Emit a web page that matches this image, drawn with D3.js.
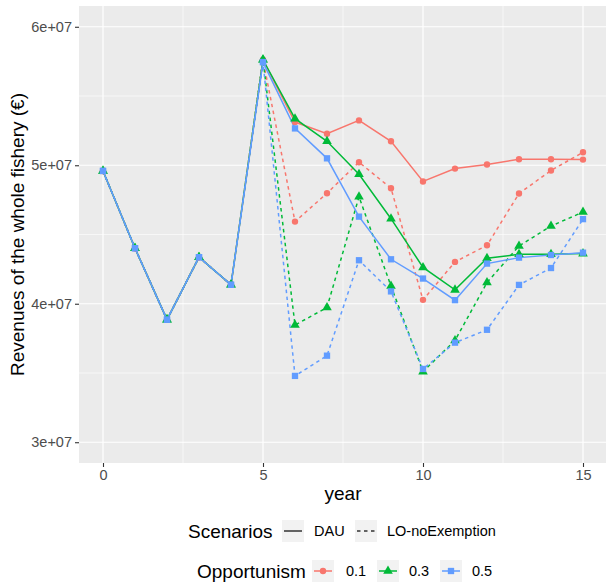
<!DOCTYPE html>
<html>
<head>
<meta charset="utf-8">
<script src="https://cdn.jsdelivr.net/npm/d3@7"></script>
<style>
  body { margin: 0; background: #fff; }
  svg { font-family: "Liberation Sans", Arial, sans-serif; display: block; }
  .tickLabel { fill: #4d4d4d; font-size: 14.5px; }
  .axisTitle { fill: #000; font-size: 19px; }
  .legendTitle { fill: #000; font-size: 19px; }
  .legendLabel { fill: #000; font-size: 14.5px; }
</style>
</head>
<body>
<div id="chart"></div>
<script>
// years on the x axis
var years = [0, 1, 2, 3, 4, 5, 6, 7, 8, 9, 10, 11, 12, 13, 14, 15];

// revenues (EUR)
var dau01 = [4.959e7, 4.401e7, 3.885e7, 4.336e7, 4.137e7, 5.760e7, 5.312e7, 5.228e7, 5.324e7, 5.173e7, 4.883e7, 4.976e7, 5.005e7, 5.043e7, 5.043e7, 5.041e7];
var dau03 = [4.959e7, 4.401e7, 3.885e7, 4.336e7, 4.137e7, 5.762e7, 5.336e7, 5.173e7, 4.935e7, 4.614e7, 4.262e7, 4.100e7, 4.328e7, 4.357e7, 4.357e7, 4.362e7];
var dau05 = [4.959e7, 4.401e7, 3.885e7, 4.336e7, 4.137e7, 5.745e7, 5.266e7, 5.050e7, 4.629e7, 4.321e7, 4.182e7, 4.026e7, 4.290e7, 4.333e7, 4.352e7, 4.369e7];
var lo01  = [4.959e7, 4.401e7, 3.885e7, 4.336e7, 4.137e7, 5.760e7, 4.593e7, 4.798e7, 5.022e7, 4.834e7, 4.028e7, 4.302e7, 4.422e7, 4.796e7, 4.962e7, 5.094e7];
var lo03  = [4.959e7, 4.401e7, 3.885e7, 4.336e7, 4.137e7, 5.762e7, 3.846e7, 3.973e7, 4.772e7, 4.128e7, 3.510e7, 3.735e7, 4.153e7, 4.417e7, 4.561e7, 4.662e7];
var lo05  = [4.959e7, 4.401e7, 3.885e7, 4.336e7, 4.137e7, 5.745e7, 3.479e7, 3.625e7, 4.314e7, 4.089e7, 3.529e7, 3.719e7, 3.812e7, 4.136e7, 4.258e7, 4.611e7];

var scenarios = ["DAU", "LO-noExemption"];
var opportunism = ["0.1", "0.3", "0.5"];
var xTicks = [0, 5, 10, 15];
var yTicks = [3e7, 4e7, 5e7, 6e7];

var series = [
    {scenario: "DAU", opp: "0.1", values: dau01},
    {scenario: "LO-noExemption", opp: "0.1", values: lo01},
    {scenario: "DAU", opp: "0.3", values: dau03},
    {scenario: "LO-noExemption", opp: "0.3", values: lo03},
    {scenario: "DAU", opp: "0.5", values: dau05},
    {scenario: "LO-noExemption", opp: "0.5", values: lo05}
];

var width = 606, height = 582;
var panel = {left: 79, right: 607, top: 6, bottom: 463};

var colorScale = d3.scaleOrdinal().domain(opportunism).range(["#F8766D", "#00BA38", "#619CFF"]);
var dashScale = d3.scaleOrdinal().domain(scenarios).range([null, "3.5,3.5"]);
var shapeScale = d3.scaleOrdinal().domain(opportunism).range([d3.symbolCircle, d3.symbolTriangle, d3.symbolSquare]);
var sizeScale = d3.scaleOrdinal().domain(opportunism).range([32, 40, 40]);

// ggplot-style 5% expansion around 0..15 and 3e7..6e7
var xScale = d3.scaleLinear().domain([-0.75, 15.75]).range([panel.left, panel.right]);
var yScale = d3.scaleLinear().domain([2.85e7, 6.15e7]).range([panel.bottom, panel.top]);

var svg = d3.select("#chart").append("svg")
    .attr("width", width)
    .attr("height", height);

svg.append("rect").attr("width", width).attr("height", height).attr("fill", "#fff");

svg.append("rect")
    .attr("x", panel.left)
    .attr("y", panel.top)
    .attr("width", panel.right - panel.left)
    .attr("height", panel.bottom - panel.top)
    .attr("fill", "#EBEBEB");

// minor grid
var grid = svg.append("g");
grid.selectAll(".minorX")
    .data([2.5, 7.5, 12.5])
    .enter().append("line")
    .attr("x1", function(d) { return xScale(d); })
    .attr("x2", function(d) { return xScale(d); })
    .attr("y1", panel.top).attr("y2", panel.bottom)
    .attr("stroke", "#fff").attr("stroke-width", 0.6);
grid.selectAll(".minorY")
    .data([3.5e7, 4.5e7, 5.5e7])
    .enter().append("line")
    .attr("y1", function(d) { return yScale(d); })
    .attr("y2", function(d) { return yScale(d); })
    .attr("x1", panel.left).attr("x2", panel.right)
    .attr("stroke", "#fff").attr("stroke-width", 0.6);
// major grid
grid.selectAll(".majorX")
    .data(xTicks)
    .enter().append("line")
    .attr("x1", function(d) { return xScale(d); })
    .attr("x2", function(d) { return xScale(d); })
    .attr("y1", panel.top).attr("y2", panel.bottom)
    .attr("stroke", "#fff").attr("stroke-width", 1.2);
grid.selectAll(".majorY")
    .data(yTicks)
    .enter().append("line")
    .attr("y1", function(d) { return yScale(d); })
    .attr("y2", function(d) { return yScale(d); })
    .attr("x1", panel.left).attr("x2", panel.right)
    .attr("stroke", "#fff").attr("stroke-width", 1.2);

// axes
var xAxis = svg.append("g")
    .attr("transform", "translate(0," + panel.bottom + ")")
    .call(d3.axisBottom(xScale).tickValues(xTicks).tickSize(4).tickPadding(3));
var yAxis = svg.append("g")
    .attr("transform", "translate(" + panel.left + ",0)")
    .call(d3.axisLeft(yScale).tickValues(yTicks).tickSize(4).tickPadding(3)
        .tickFormat(function(d) { return (d / 1e7) + "e+07"; }));
[xAxis, yAxis].forEach(function(ax) {
    ax.attr("font-family", null).attr("font-size", null);
    ax.select(".domain").remove();
    ax.selectAll(".tick line").attr("stroke", "#333").attr("stroke-width", 1.1);
    ax.selectAll(".tick text").attr("class", "tickLabel");
});

svg.append("text")
    .attr("class", "axisTitle")
    .attr("x", (panel.left + panel.right) / 2)
    .attr("y", 500)
    .attr("text-anchor", "middle")
    .text("year");

svg.append("text")
    .attr("class", "axisTitle")
    .attr("transform", "translate(24," + ((panel.top + panel.bottom) / 2) + ") rotate(-90)")
    .attr("text-anchor", "middle")
    .text("Revenues of the whole fishery (€)");

// lines
var line = d3.line()
    .x(function(d, i) { return xScale(years[i]); })
    .y(function(d) { return yScale(d); });

var plot = svg.append("g");
plot.selectAll(".seriesLine")
    .data(series)
    .enter().append("path")
    .attr("class", "seriesLine")
    .attr("d", function(s) { return line(s.values); })
    .attr("fill", "none")
    .attr("stroke", function(s) { return colorScale(s.opp); })
    .attr("stroke-width", 1.5)
    .attr("stroke-dasharray", function(s) { return dashScale(s.scenario); });

// points
series.forEach(function(s) {
    plot.selectAll(null)
        .data(s.values)
        .enter().append("path")
        .attr("transform", function(d, i) { return "translate(" + xScale(years[i]) + "," + yScale(d) + ")"; })
        .attr("d", d3.symbol().type(shapeScale(s.opp)).size(sizeScale(s.opp)))
        .attr("fill", colorScale(s.opp));
});

// legend
var legend = svg.append("g");
var keySize = 22;

legend.append("text").attr("class", "legendTitle").attr("x", 188).attr("y", 538).text("Scenarios");
var scenKeyX = [282, 355];
var scenLabelX = [314, 387];
scenarios.forEach(function(sc, i) {
    legend.append("rect")
        .attr("x", scenKeyX[i]).attr("y", 520)
        .attr("width", keySize).attr("height", keySize)
        .attr("fill", "#F2F2F2");
    legend.append("line")
        .attr("x1", scenKeyX[i] + 2).attr("x2", scenKeyX[i] + keySize - 2)
        .attr("y1", 531).attr("y2", 531)
        .attr("stroke", "#333").attr("stroke-width", 1.5)
        .attr("stroke-dasharray", dashScale(sc));
    legend.append("text").attr("class", "legendLabel")
        .attr("x", scenLabelX[i]).attr("y", 536).text(sc);
});

legend.append("text").attr("class", "legendTitle").attr("x", 197).attr("y", 578).text("Opportunism");
var oppKeyX = [312, 377, 440];
var oppLabelX = [346, 409, 472];
opportunism.forEach(function(o, i) {
    legend.append("rect")
        .attr("x", oppKeyX[i]).attr("y", 560)
        .attr("width", keySize).attr("height", keySize)
        .attr("fill", "#F2F2F2");
    legend.append("line")
        .attr("x1", oppKeyX[i] + 2).attr("x2", oppKeyX[i] + keySize - 2)
        .attr("y1", 571).attr("y2", 571)
        .attr("stroke", colorScale(o)).attr("stroke-width", 1.5);
    legend.append("path")
        .attr("transform", "translate(" + (oppKeyX[i] + keySize / 2) + ",571)")
        .attr("d", d3.symbol().type(shapeScale(o)).size(sizeScale(o)))
        .attr("fill", colorScale(o));
    legend.append("text").attr("class", "legendLabel")
        .attr("x", oppLabelX[i]).attr("y", 576).text(o);
});
</script>
</body>
</html>
